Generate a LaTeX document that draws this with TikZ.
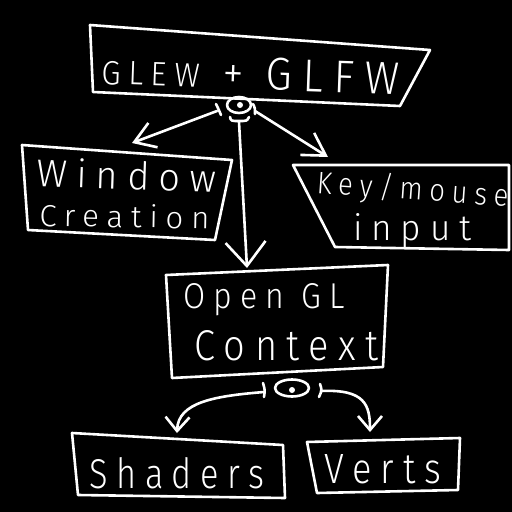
\documentclass[tikz,border=0pt]{standalone}
\usepackage{fontspec}
\usepackage{graphicx}
\setmainfont{Fira Sans}
\newfontfamily\hand{Fira Sans Light}[LetterSpace=25]
\usetikzlibrary{arrows.meta,shapes.geometric}
\newcommand\fitbox[3]{\resizebox{#1pt}{#2pt}{#3}}
\begin{document}
\begin{tikzpicture}[x=1pt,y=-1pt,line width=2.6pt,line join=round,line cap=round,
  txt/.style={inner sep=0pt,anchor=base west,text=white,font=\hand\fontsize{30}{30}\selectfont},
  bx/.style={draw=white},
  wire/.style={draw=white},
  barb/.style={draw=white,-{Straight Barb[length=#1,width=26pt,line width=2.6pt]}},
  barbw/.style={draw=white,-{Straight Barb[length=24pt,width=40pt,line width=2.6pt]}},
  barbs/.style={draw=white,-{Straight Barb[length=14pt,width=24pt,line width=2.6pt]}},
  knob/.style={draw=white,ellipse,inner sep=0pt,line width=2.6pt}]
\fill[black] (0,0) rectangle (512,512);
\useasboundingbox (0,0) rectangle (512,512);

% boxes
\draw[bx] (90,25) -- (430,50) -- (400,106) -- (93,92) -- cycle;
\draw[bx] (22,145) -- (232,160) -- (215,240) -- (28,230) -- cycle;
\draw[bx] (293,165) -- (509,165) -- (509,250) -- (335,247) -- cycle;
\draw[bx] (166,275) -- (388,265) -- (383,367) -- (172,378) -- cycle;
\draw[bx] (72,433) -- (283,445) -- (285,498) -- (78,495) -- cycle;
\draw[bx] (307,442) -- (460,438) -- (458,490) -- (317,493) -- cycle;

% texts
\node[txt,rotate=-2] (glew) at (100,84) {\fitbox{298}{32}{{\fontsize{22}{22}\selectfont GLEW}\ + GLFW}};
\node[txt,rotate=-2] (win) at (35,186) {\fitbox{180}{29}{Window}};
\node[txt,rotate=-1] (cre) at (38,226) {\fitbox{170}{23}{Creation}};
\node[txt,rotate=-4] (key) at (315,193) {\fitbox{192}{25}{Key/mouse}};
\node[txt] (inp) at (352,240) {\fitbox{118}{27}{input}};
\node[txt] (ogl) at (182,308) {\fitbox{161}{25}{Open GL}};
\node[txt] (ctx) at (193,360) {\fitbox{184}{30}{Context}};
\node[txt] (sha) at (88,488) {\fitbox{175}{31}{Shaders}};
\node[txt] (ver) at (323,483) {\fitbox{117}{29}{Verts}};

% top knob
\node[knob,minimum width=24pt,minimum height=16pt] (k1) at (239,105) {};
\fill[white] (240,105) circle (3);
\draw[wire] (230,117) .. controls (231,121) .. (239,121) .. controls (247,121) .. (249,117);
\coordinate (k1l) at (217,111);
\coordinate (k1r) at (255,111);
\coordinate (k1b) at (239,122);
\draw[wire] (216,104) .. controls (218,108) .. (221,115);
\draw[wire] (253,104) .. controls (255,108) .. (255,114);
\coordinate (winT) at (132,143);
\coordinate (keyT) at (328,157);
\coordinate (oglT) at (247,268);
\draw[barb=20pt] (k1l) -- (winT);
\draw[barb=22pt] (k1r) -- (keyT);
\draw[barbw] (k1b) -- (oglT);

% bottom knob
\node[knob,minimum width=34pt,minimum height=17pt] (k2) at (292,388) {};
\fill[white] (292,390) circle (3);
\draw[wire] (263,383) .. controls (265,390) .. (264,397);
\draw[wire] (320,384) .. controls (322,390) .. (319,397);
\coordinate (k2l) at (264,392);
\coordinate (k2r) at (321,391);
\coordinate (shaT) at (177,433);
\coordinate (verT) at (370,432);
\draw[barbs] (k2l) .. controls (215,396) and (178,402) .. (shaT);
\draw[barbs] (k2r) .. controls (365,389) and (370,405) .. (verT);
\end{tikzpicture}
\end{document}
